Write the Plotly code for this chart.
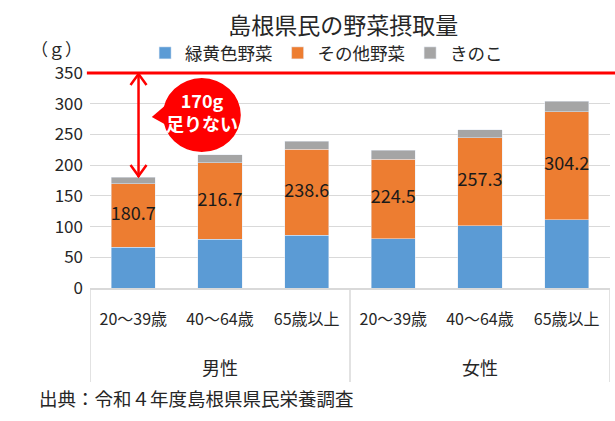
import plotly.graph_objects as go

# ---- data ----
groups = ["男性", "男性", "男性", "女性", "女性", "女性"]
ages = ["20～39歳", "40～64歳", "65歳以上", "20～39歳", "40～64歳", "65歳以上"]
green_yellow = [66, 79, 86, 80, 101.5, 111]
other_veg = [104, 125, 140, 130, 143.5, 176]
mushroom = [10.7, 12.7, 12.6, 14.5, 12.3, 17.2]
totals = [180.7, 216.7, 238.6, 224.5, 257.3, 304.2]
target = 350
y_ticks = [0, 50, 100, 150, 200, 250, 300, 350]

FONT = "Noto Sans CJK JP"
TXT = "#262626"
RED = "#FF0000"
GRID = "#D9D9D9"

xpos = list(range(len(ages)))
fig = go.Figure()
fig.add_bar(x=xpos, y=green_yellow, name="緑黄色野菜", marker_color="#5B9BD5")
fig.add_bar(x=xpos, y=other_veg, name="その他野菜", marker_color="#ED7D31")
fig.add_bar(x=xpos, y=mushroom, name="きのこ", marker_color="#A5A5A5")

# total labels centred in the orange segment
label_y = [g + o / 2 for g, o in zip(green_yellow, other_veg)]
fig.add_scatter(x=xpos, y=label_y, mode="text", text=[f"{t:.1f}" for t in totals],
                textfont=dict(size=18, color="#1a1a1a", family=FONT),
                showlegend=False, hoverinfo="skip")

shapes = []
# group dividers below the axis
group_names = []
bounds = [-0.5]
for i, g in enumerate(groups):
    if not group_names or group_names[-1][0] != g:
        group_names.append([g, [i]])
    else:
        group_names[-1][1].append(i)
for g, idx in group_names:
    bounds.append(idx[-1] + 0.5)
for b in bounds:
    shapes.append(dict(type="line", xref="x", yref="paper", x0=b, x1=b, y0=0, y1=-0.437,
                       line=dict(color=GRID, width=1.5)))
# target line (top of the value range)
shapes.append(dict(type="line", xref="paper", yref="paper", x0=-0.006, x1=1.01,
                   y0=target / y_ticks[-1], y1=target / y_ticks[-1],
                   line=dict(color=RED, width=3)))
# double arrow between target and first bar
ax_x = 0.06
shapes.append(dict(type="line", xref="x", yref="y", x0=ax_x, x1=ax_x,
                   y0=totals[0], y1=target, line=dict(color=RED, width=2.5)))
shapes.append(dict(type="path", xref="x", yref="y", xsizemode="pixel", ysizemode="pixel",
                   xanchor=ax_x, yanchor=target, path="M -8,-12 L 0,-1 L 8,-12",
                   line=dict(color=RED, width=2.5)))
shapes.append(dict(type="path", xref="x", yref="y", xsizemode="pixel", ysizemode="pixel",
                   xanchor=ax_x, yanchor=totals[0], path="M -8,12 L 0,1 L 8,12",
                   line=dict(color=RED, width=2.5)))
# speech bubble
bx, by = 0.79, 281.5
shapes.append(dict(type="circle", xref="x", yref="y", xsizemode="pixel", ysizemode="pixel",
                   xanchor=bx, yanchor=by, x0=-39, x1=39, y0=-37, y1=37,
                   fillcolor=RED, line=dict(width=0)))
shapes.append(dict(type="path", xref="x", yref="y", xsizemode="pixel", ysizemode="pixel",
                   xanchor=bx, yanchor=by, path="M -50,-2 L -36,10 L -32,-12 Z",
                   fillcolor=RED, line=dict(width=0)))

annotations = [
    dict(x=bx, y=by, xref="x", yref="y", yshift=4, text="<b>170g<br>足りない</b>",
         showarrow=False, font=dict(size=18, color="white", family=FONT)),
    dict(x=-0.065, y=1.116, xref="paper", yref="paper", text="（ｇ）", showarrow=False,
         xanchor="center", yanchor="middle", font=dict(size=17, color=TXT, family=FONT)),
    dict(x=-0.102, y=-0.512, xref="paper", yref="paper", text="出典：令和４年度島根県県民栄養調査",
         showarrow=False, xanchor="left", yanchor="middle",
         font=dict(size=18.5, color=TXT, family=FONT)),
]
for g, idx in group_names:
    annotations.append(dict(x=sum(idx) / len(idx), y=-0.367, xref="x", yref="paper", text=g,
                            showarrow=False, xanchor="center", yanchor="middle",
                            font=dict(size=18, color=TXT, family=FONT)))

fig.update_layout(
    width=615, height=421,
    margin=dict(l=90, r=5, t=73, b=133, autoexpand=False),
    paper_bgcolor="white", plot_bgcolor="white",
    barmode="stack", bargap=0.49,
    font=dict(family=FONT, color=TXT, size=16),
    title=dict(text="島根県民の野菜摂取量", x=0.558, xanchor="center",
               y=0.938, yanchor="middle", font=dict(size=23, color=TXT, family=FONT)),
    legend=dict(orientation="h", x=0.455, xanchor="center", y=1.093, yanchor="middle",
                font=dict(size=17.5, color=TXT), traceorder="normal",
                itemwidth=30, bgcolor="rgba(0,0,0,0)"),
    shapes=shapes,
    annotations=annotations,
    showlegend=True,
)
fig.update_yaxes(range=[0, target], tickvals=y_ticks, showgrid=True, gridcolor=GRID,
                 gridwidth=1, zeroline=False, showline=False, ticks="",
                 tickfont=dict(size=17, color=TXT), ticklabelstandoff=6, automargin=False)
fig.update_xaxes(range=[-0.5, len(ages) - 0.5], tickvals=xpos, ticktext=ages,
                 showgrid=False, zeroline=False, showline=True, linecolor=GRID, linewidth=1.5,
                 tickfont=dict(size=16, color=TXT), ticks="", ticklabelstandoff=16,
                 automargin=False)

fig.write_html("out.html", config={"displayModeBar": False},
               post_script="document.body.style.margin='0';")
